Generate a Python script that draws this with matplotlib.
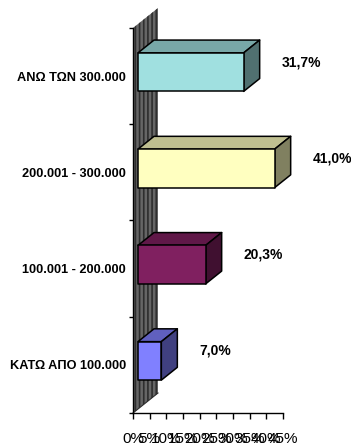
import matplotlib
matplotlib.use("Agg")
import matplotlib.pyplot as plt
from matplotlib.patches import Polygon
import numpy as np

plt.rcParams['font.family'] = ['Liberation Sans', 'DejaVu Sans']
plt.rcParams['hatch.linewidth'] = 1.2

# data, bottom to top as drawn
categories = ['ΚΑΤΩ ΑΠΟ 100.000', '100.001 - 200.000', '200.001 - 300.000', 'ΑΝΩ ΤΩΝ 300.000']
values = [7.0, 20.3, 41.0, 31.7]
value_labels = ['7,0%', '20,3%', '41,0%', '31,7%']
front_colors = ['#8080FF', '#802060', '#FFFFC0', '#A0E0E0']
xticks = [0, 5, 10, 15, 20, 25, 30, 35, 40, 45]
xtick_labels = [f'{t}%' for t in xticks]


def shade(hex_color, f):
    c = np.array(matplotlib.colors.to_rgb(hex_color)) * f
    return tuple(c)


fig = plt.figure(figsize=(3.51, 4.48), dpi=100)
W, H = 351, 448
# axes box in pixels: x 133..283, y 28..413 (from top)
ax = fig.add_axes([133 / W, (H - 413) / H, 150 / W, 385 / H])
ax.set_xlim(0, 45)
ax.set_ylim(-0.5, len(categories) - 0.5)

# pixel -> data conversions
sx = 150 / 45.0
sy = 385 / len(categories)


def off(px, py):
    # px right, py up (pixels) to data units
    return px / sx, py / sy


# side wall (depth 25px right, 20px up)
wdx, wdy = off(25, 20)
y0, y1 = -0.5, len(categories) - 0.5
wall = Polygon([(0, y0), (0, y1), (wdx, y1 + wdy), (wdx, y0 + wdy)], closed=True,
               facecolor='#666666', edgecolor='#2e2e2e', hatch='||||', linewidth=0,
               zorder=1, clip_on=False)
ax.add_patch(wall)
ax.plot([0, wdx], [y0, y0 + wdy], color='#2e2e2e', lw=0.8, zorder=1.5, clip_on=False)

# bars: front face offset 20% of depth, back face at 84%
fdx, fdy = off(5, 4)
bdx, bdy = off(21, 16.8)
h = 0.2
lw = 1.1
for i, (v, col) in enumerate(zip(values, front_colors)):
    xl, xr = fdx, v + fdx
    yb, yt = i - h + fdy, i + h + fdy
    ddx, ddy = bdx - fdx, bdy - fdy
    top = Polygon([(xl, yt), (xr, yt), (xr + ddx, yt + ddy), (xl + ddx, yt + ddy)],
                  closed=True, facecolor=shade(col, 0.75), edgecolor='black',
                  linewidth=lw, zorder=3, clip_on=False, joinstyle='round')
    side = Polygon([(xr, yb), (xr, yt), (xr + ddx, yt + ddy), (xr + ddx, yb + ddy)],
                   closed=True, facecolor=shade(col, 0.5), edgecolor='black',
                   linewidth=lw, zorder=3, clip_on=False, joinstyle='round')
    front = Polygon([(xl, yb), (xr, yb), (xr, yt), (xl, yt)], closed=True,
                    facecolor=col, edgecolor='black', linewidth=lw, zorder=4,
                    clip_on=False, joinstyle='round')
    ax.add_patch(top)
    ax.add_patch(side)
    ax.add_patch(front)
    lx, ly = off(43, 14)
    ax.text(v + lx, i + ly, value_labels[i], ha='left', va='center',
            fontsize=10, fontweight='bold', zorder=5, clip_on=False)

# axes styling
for s in ['top', 'right']:
    ax.spines[s].set_visible(False)
ax.spines['left'].set_linewidth(1.0)
ax.spines['bottom'].set_linewidth(1.0)
ax.spines['left'].set_zorder(2)
ax.set_facecolor('none')

ax.set_xticks(xticks)
ax.set_xticklabels(xtick_labels, fontsize=11)
ax.tick_params(axis='x', length=4, width=1.0, pad=10)

ax.set_yticks(range(len(categories)))
ax.set_yticklabels(categories, fontsize=9.2, fontweight='bold')
ax.set_yticks(np.arange(-0.5, len(categories)), minor=True)
ax.tick_params(axis='y', which='major', length=0, pad=5)
ax.tick_params(axis='y', which='minor', length=3, width=1.0)

fig.savefig('out.png', dpi=100)
